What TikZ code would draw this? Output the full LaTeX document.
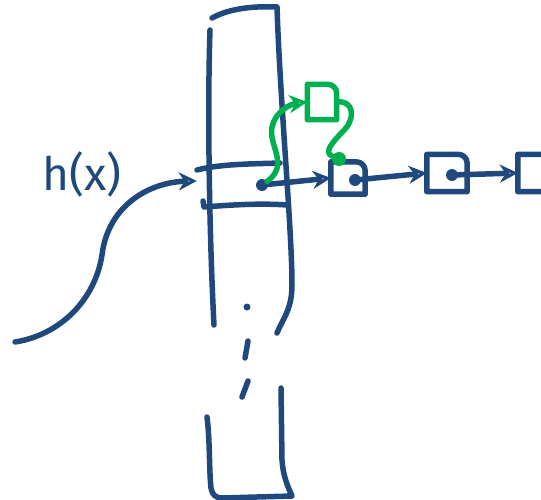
\documentclass[tikz,border=0pt]{standalone}
\usepackage{fontspec}
\usetikzlibrary{arrows.meta,positioning}
\newfontfamily\handfont{Fira Sans}
\definecolor{inkblue}{RGB}{31,73,125}
\definecolor{inkgreen}{RGB}{0,176,80}
\newcommand{\drawcell}[2][ink]{\draw[#1] (#2.south west) -- (#2.north west) -- ([xshift=-9pt]#2.north east) to[out=0,in=90] ([yshift=-9pt]#2.north east) -- (#2.south east) -- cycle;}

\begin{document}
\begin{tikzpicture}[x=1pt,y=-1pt,
  ink/.style={draw=inkblue, line width=5.5pt, line cap=round, line join=round},
  gink/.style={ink, draw=inkgreen},
  cell/.style={minimum width=36pt, minimum height=34pt, inner sep=0pt},
  ptr/.style={circle, fill=inkblue, minimum size=12pt, inner sep=0pt},
  tip/.style={-{Stealth[open,length=18pt,width=18pt]}}
]
\useasboundingbox (0,0) rectangle (541,500);

% the table column, broken by dots
\draw[ink] (214,325) .. controls (210,250) and (207,120) .. (210,30);
\draw[ink] (212,18) .. controls (230,8) and (255,6) .. (277,7)
  .. controls (280,100) and (292,230) .. (292,285) .. controls (292,310) and (282,320) .. (277,333);
\fill[inkblue] (247,307) circle (3.5pt);
\draw[ink] (248,341) -- (245,358);
\draw[ink] (248,381) -- (242,397);
\draw[ink] (207,417) .. controls (210,440) and (209,470) .. (211,488)
  .. controls (212,495) and (216,498) .. (222,498) -- (292,496)
  .. controls (287,485) and (283,475) .. (282,460) -- (281,388);

% the slot hit by h(x)
\node[minimum width=94pt, minimum height=40pt] (slot) at (244,186) {};
\draw[ink] (197,170) .. controls (220,164) and (250,164) .. (280,163);
\draw[ink] (203,201) -- (204,207) .. controls (230,205) and (260,203) .. (287,205);
\node[ptr] (d0) at (262,185) {};

% chain
\node[cell, minimum width=34pt, minimum height=32pt] (n1) at (348,178) {};
\node[cell, minimum width=40pt, minimum height=37pt] (n2) at (447,173) {};
\node[cell, minimum width=40pt, minimum height=37pt] (n3) at (538,173) {};
\drawcell{n1}
\drawcell{n2}
\drawcell{n3}
\node[ptr] (d1) at (355,180) {};
\node[ptr] (d2) at (452,175) {};
\draw[ink, tip] (d0) -- (n1.west);
\draw[ink, tip] (d1) -- (n2.west);
\draw[ink, tip] (d2) -- (n3.west);

% new element in green
\node[cell, minimum width=29pt, minimum height=35pt] (g) at (322,102) {};
\drawcell[gink]{g}
\node[circle, fill=inkgreen, minimum size=14pt, inner sep=0pt] (gd) at (339,159) {};
\draw[gink, tip] (d0) .. controls (290,165) and (268,145) .. (272,127)
  .. controls (275,112) and (290,104) .. (g.west);
\draw[gink] (g.east) .. controls (352,100) and (356,115) .. (346,128)
  .. controls (335,140) and (322,152) .. (gd);

% hash function arrow
\node[text=inkblue, font=\handfont\fontsize{46}{46}\selectfont] (hx) at (82,174) {h(x)};
\coordinate (src) at (15,342);
\draw[ink, tip] (src) .. controls (60,335) and (95,300) .. (102,255)
  .. controls (108,205) and (150,182) .. ([yshift=5pt]slot.west);
\end{tikzpicture}
\end{document}
